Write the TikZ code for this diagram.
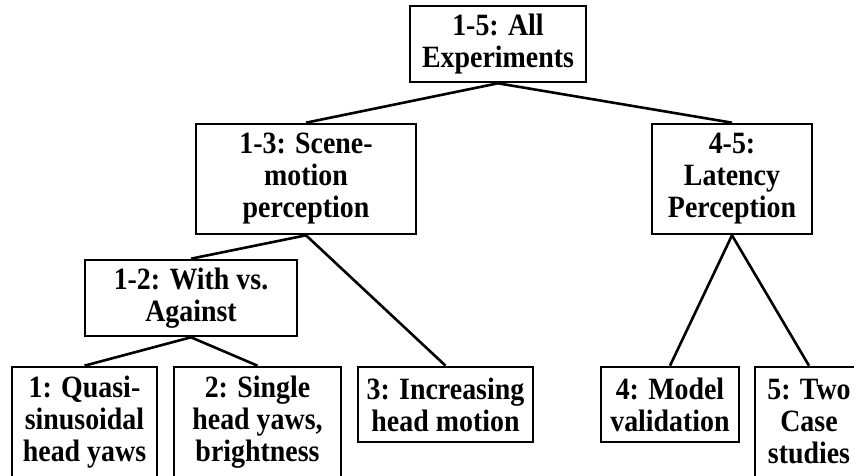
\documentclass[tikz,border=0pt]{standalone}
\usepackage{fontspec}
\setmainfont{Liberation Serif}[FakeStretch=0.9]
\begin{document}
\begin{tikzpicture}[x=1pt, y=-1pt,
  box/.style={draw, line width=2.6pt, align=center, inner sep=0pt,
    font=\fontsize{31}{32}\selectfont\bfseries},
  link/.style={line width=2.6pt}]

\useasboundingbox (0,0) rectangle (854,476);
\clip (0,0) rectangle (854,476);

\node[box, minimum width=176pt, minimum height=76pt] (all) at (498,44) {1-5: All\\Experiments};

\node[box, minimum width=220pt, minimum height=110pt] (scene) at (306,179) {1-3: Scene-\\motion\\perception};
\node[box, minimum width=160pt, minimum height=110pt] (latency) at (732,179) {4-5:\\Latency\\Perception};

\node[box, minimum width=212pt, minimum height=76pt] (withag) at (191,298) {1-2: With vs.\\Against};

\node[box, minimum width=145pt, minimum height=110pt] (quasi) at (84.5,422) {1: Quasi-\\sinusoidal\\head yaws};
\node[box, minimum width=167pt, minimum height=110pt] (single) at (257.5,422) {2: Single\\head yaws,\\brightness};
\node[box, minimum width=175pt, minimum height=75pt] (incr) at (445.5,404.5) {3: Increasing\\head motion};
\node[box, minimum width=138pt, minimum height=75pt] (model) at (670,404.5) {4: Model\\validation};
\node[box, minimum width=108pt, minimum height=110pt] (cases) at (809,422) {5: Two\\Case\\studies};

\draw[link] (all.south) -- (scene.north);
\draw[link] (all.south) -- (latency.north);

\draw[link] (scene.south) -- (withag.north);
\draw[link] (scene.south) -- (incr.north);

\draw[link] (withag.south) -- (quasi.north);
\draw[link] (withag.south) -- (single.north);

\draw[link] (latency.south) -- (model.north);
\draw[link] (latency.south) -- (cases.north);

\end{tikzpicture}
\end{document}
